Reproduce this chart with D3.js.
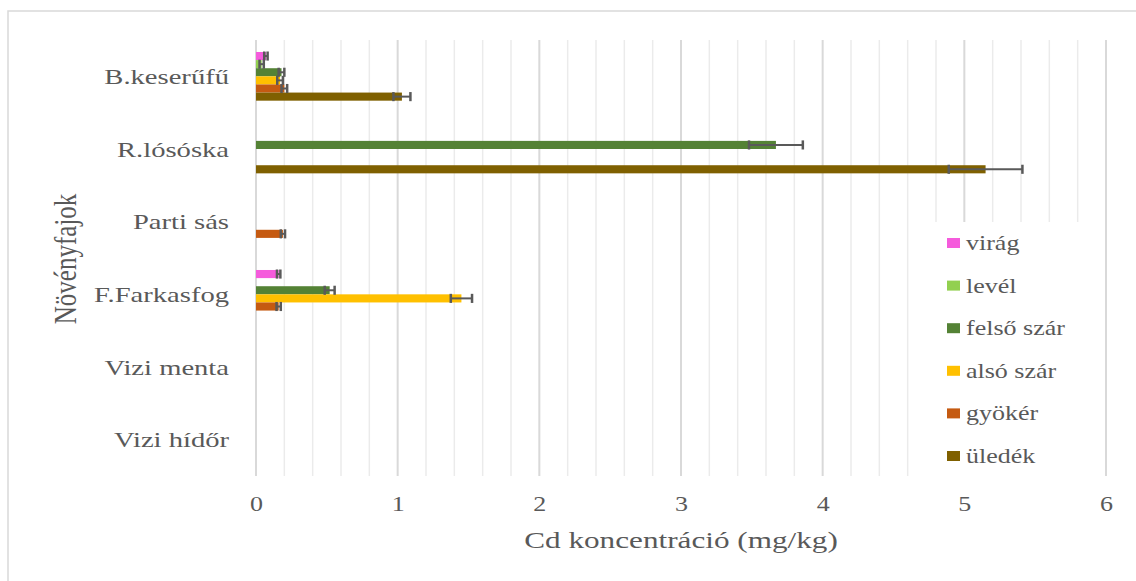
<!DOCTYPE html>
<html>
<head>
<meta charset="utf-8">
<script src="https://cdn.jsdelivr.net/npm/d3@7"></script>
<style>
  body { margin: 0; background: #fff; }
  svg text { font-family: "Liberation Serif", "Times New Roman", serif; fill: #595959; }
</style>
</head>
<body>
<svg width="1136" height="581"></svg>
<script>
// plant species (top to bottom) and plant parts
var categories = ["B.keserűfű", "R.lósóska", "Parti sás", "F.Farkasfog", "Vizi menta", "Vizi hídőr"];
var seriesNames = ["virág", "levél", "felső szár", "alsó szár", "gyökér", "üledék"];

// Cd (mg/kg), one value per category, null = no bar
var viragVals   = [0.07, null, null, 0.16, null, null];
var levelVals   = [0.04, null, null, null, null, null];
var felsoVals   = [0.18, 3.67, null, 0.52, null, null];
var alsoVals    = [0.17, null, null, 1.45, null, null];
var gyokerVals  = [0.20, null, 0.19, 0.16, null, null];
var uledekVals  = [1.03, 5.15, null, null, null, null];

// error (+/-)
var viragErr  = [0.012, null, null, 0.012, null, null];
var levelErr  = [0.015, null, null, null, null, null];
var felsoErr  = [0.02, 0.19, null, 0.035, null, null];
var alsoErr   = [0.02, null, null, 0.075, null, null];
var gyokerErr = [0.02, null, 0.015, 0.015, null, null];
var uledekErr = [0.06, 0.26, null, null, null, null];

var xTicks = [0, 1, 2, 3, 4, 5, 6];

var colorMap = {
    "virág": "#f55bdc",
    "levél": "#92d050",
    "felső szár": "#548235",
    "alsó szár": "#ffc000",
    "gyökér": "#c55a11",
    "üledék": "#7f6000"
};

var allVals = [viragVals, levelVals, felsoVals, alsoVals, gyokerVals, uledekVals];
var allErrs = [viragErr, levelErr, felsoErr, alsoErr, gyokerErr, uledekErr];

// the source picture is stretched sideways, text follows it
var SX = 1.3;

var svg = d3.select("svg");

// chart frame
svg.append("rect")
    .attr("x", 8).attr("y", 11)
    .attr("width", 1200).attr("height", 700)
    .attr("fill", "none")
    .attr("stroke", "#d9d9d9")
    .attr("stroke-width", 1.5);

var plotTop = 40, plotBottom = 476;

var x = d3.scaleLinear().domain([0, 6]).range([256, 1106]);
var y = d3.scaleBand().domain(categories).range([plotTop, plotBottom]);
var ySub = d3.scaleBand().domain(seriesNames)
    .range([y.bandwidth() * 0.165, y.bandwidth() * 0.835]);

// gridlines: minor every 0.2, major every 1
var minor = d3.range(0, 30).map(function(i) { return i / 5; }).filter(function(v) { return v % 1 != 0; });
svg.append("g").selectAll("line")
    .data(minor)
    .enter().append("line")
    .attr("x1", d => x(d)).attr("x2", d => x(d))
    .attr("y1", plotTop).attr("y2", plotBottom)
    .attr("stroke", "#ebebeb")
    .attr("stroke-width", 1.5);

svg.append("g").selectAll("line")
    .data(xTicks)
    .enter().append("line")
    .attr("x1", d => x(d)).attr("x2", d => x(d))
    .attr("y1", plotTop).attr("y2", plotBottom)
    .attr("stroke", "#d9d9d9")
    .attr("stroke-width", 2);

// bars
var rows = [];
seriesNames.forEach(function(s, si) {
    categories.forEach(function(c, ci) {
        if (allVals[si][ci] != null) {
            rows.push({series: s, cat: c, value: allVals[si][ci], err: allErrs[si][ci]});
        }
    });
});

svg.append("g").selectAll("rect")
    .data(rows)
    .enter().append("rect")
    .attr("x", x(0))
    .attr("y", d => y(d.cat) + ySub(d.series))
    .attr("width", d => x(d.value) - x(0))
    .attr("height", ySub.bandwidth())
    .attr("fill", d => colorMap[d.series]);

// error bars
var eb = svg.append("g").selectAll("g")
    .data(rows.filter(d => d.err != null))
    .enter().append("g")
    .attr("stroke", "#595959");

eb.append("line")
    .attr("stroke-width", 2)
    .attr("x1", d => x(d.value - d.err)).attr("x2", d => x(d.value + d.err))
    .attr("y1", d => y(d.cat) + ySub(d.series) + ySub.bandwidth() / 2)
    .attr("y2", d => y(d.cat) + ySub(d.series) + ySub.bandwidth() / 2);
[-1, 1].forEach(function(sign) {
    eb.append("line")
        .attr("stroke-width", 2.5)
        .attr("x1", d => x(d.value + sign * d.err)).attr("x2", d => x(d.value + sign * d.err))
        .attr("y1", d => y(d.cat) + ySub(d.series) - 0.5)
        .attr("y2", d => y(d.cat) + ySub(d.series) + ySub.bandwidth() + 0.5);
});

// x axis labels
var xAxis = svg.append("g")
    .attr("transform", "translate(0," + plotBottom + ")")
    .call(d3.axisBottom(x).tickValues(xTicks).tickSize(0).tickPadding(0).tickFormat(d3.format("d")));
xAxis.select(".domain").remove();
xAxis.selectAll("text")
    .attr("y", 35).attr("dy", null)
    .attr("fill", "#595959")
    .style("font-size", "20px")
    .attr("font-family", null)
    .attr("transform", "scale(" + SX + ",1)");

// y axis labels
var yAxis = svg.append("g")
    .attr("transform", "translate(229,0)")
    .call(d3.axisLeft(y).tickSize(0).tickPadding(0));
yAxis.select(".domain").remove();
yAxis.selectAll("text")
    .attr("x", 0).attr("dy", "0.35em")
    .attr("fill", "#595959")
    .style("font-size", "22px")
    .attr("font-family", null)
    .attr("transform", "scale(" + SX + ",1)");

// axis titles
svg.append("text")
    .attr("transform", "translate(681,548) scale(" + SX + ",1)")
    .attr("text-anchor", "middle")
    .style("font-size", "24px")
    .text("Cd koncentráció (mg/kg)");

svg.append("text")
    .attr("transform", "translate(76,259) rotate(-90) scale(1," + SX + ")")
    .attr("text-anchor", "middle")
    .style("font-size", "25px")
    .text("Növényfajok");

// legend
var legend = svg.append("g").attr("transform", "translate(926,222)");
legend.append("rect")
    .attr("width", 174).attr("height", 254)
    .attr("fill", "#fff");

var item = legend.selectAll(".item")
    .data(seriesNames)
    .enter().append("g")
    .attr("class", "item")
    .attr("transform", (d, i) => "translate(21," + (21 + i * 42.6) + ")");

item.append("rect")
    .attr("x", 0).attr("y", -5)
    .attr("width", 13).attr("height", 10)
    .attr("fill", d => colorMap[d]);

item.append("text")
    .attr("transform", "translate(19,7) scale(" + SX + ",1)")
    .style("font-size", "20px")
    .text(d => d);
</script>
</body>
</html>
